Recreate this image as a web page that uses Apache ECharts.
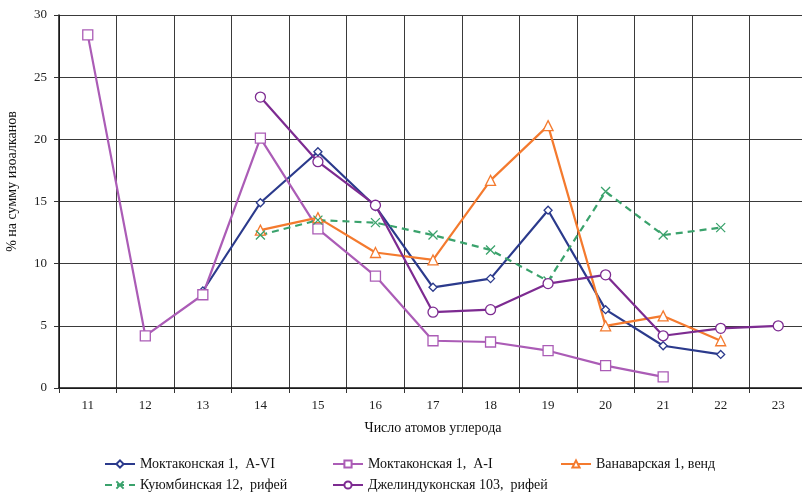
<!DOCTYPE html>
<html>
<head>
<meta charset="utf-8">
<script src="https://cdn.jsdelivr.net/npm/echarts@6/dist/echarts.min.js"></script>
<style>
  html, body { margin: 0; padding: 0; background: #fff; }
  #chart { width: 802px; height: 493px; }
</style>
</head>
<body>
<div id="chart"></div>
<script>
// Carbon number categories
const carbonNumbers = ['11', '12', '13', '14', '15', '16', '17', '18', '19', '20', '21', '22', '23'];
const yTicks = [0, 5, 10, 15, 20, 25, 30];

// Share of each isoalkane, % of total isoalkanes
const moktakonA6 = [null, null, 7.8, 14.9, 19.0, 14.6, 8.1, 8.8, 14.3, 6.3, 3.4, 2.7, null];
const moktakonA1 = [28.4, 4.2, 7.5, 20.1, 12.8, 9.0, 3.8, 3.7, 3.0, 1.8, 0.9, null, null];
const vanavarVend = [null, null, null, 12.7, 13.7, 10.9, 10.3, 16.7, 21.1, 5.0, 5.8, 3.8, null];
const kuyumbaRiphean = [null, null, null, 12.3, 13.5, 13.3, 12.3, 11.1, 8.6, 15.8, 12.3, 12.9, null];
const dzhelinduRiphean = [null, null, null, 23.4, 18.2, 14.7, 6.1, 6.3, 8.4, 9.1, 4.2, 4.8, 5.0];

const seriesNames = [
  'Моктаконская 1,  A-VI',
  'Моктаконская 1,  A-I',
  'Ванаварская 1, венд',
  'Куюмбинская 12,  рифей',
  'Джелиндуконская 103,  рифей'
];

const FONT = '"Liberation Serif", "DejaVu Serif", serif';
const crossPath = 'path://M0,0 L10,10 M10,0 L0,10';

function lineSeries(name, data, color, symbol, size, dashed) {
  const isCross = symbol === crossPath;
  return {
    name: name,
    type: 'line',
    data: data,
    symbol: symbol,
    symbolSize: size,
    showAllSymbol: true,
    lineStyle: { color: color, width: 2.2, type: dashed ? [7, 5] : 'solid' },
    itemStyle: {
      color: isCross ? color : '#ffffff',
      borderColor: color,
      borderWidth: 1.3
    },
    emphasis: { disabled: true },
    z: 3
  };
}

const chart = echarts.init(document.getElementById('chart'), null, { renderer: 'canvas' });

const legendBase = {
  orient: 'horizontal',
  itemWidth: 30,
  itemHeight: 9,
  itemGap: 4,
  padding: 0,
  textStyle: { fontFamily: FONT, fontSize: 14, color: '#111' },
  selectedMode: false
};

chart.setOption({
  animation: false,
  backgroundColor: '#ffffff',
  grid: { left: 59, top: 15, width: 748, height: 373, outerBoundsMode: 'none', containLabel: false },
  legend: [
    Object.assign({}, legendBase, { left: 104, top: 457, data: [seriesNames[0]] }),
    Object.assign({}, legendBase, { left: 332, top: 457, data: [seriesNames[1]] }),
    Object.assign({}, legendBase, { left: 560, top: 457, data: [seriesNames[2]] }),
    Object.assign({}, legendBase, { left: 104, top: 478, data: [seriesNames[3]] }),
    Object.assign({}, legendBase, { left: 332, top: 478, data: [seriesNames[4]] })
  ],
  xAxis: {
    type: 'category',
    data: carbonNumbers,
    boundaryGap: true,
    name: 'Число атомов углерода',
    nameLocation: 'middle',
    nameGap: 33,
    nameTextStyle: { fontFamily: FONT, fontSize: 14, color: '#111' },
    axisLine: { lineStyle: { color: '#111', width: 1.5 } },
    axisTick: { show: true, length: 5, lineStyle: { color: '#333' } },
    axisLabel: { fontFamily: FONT, fontSize: 13, color: '#222', margin: 11 },
    splitLine: { show: true, interval: 0, lineStyle: { color: '#3a3a3a', width: 1 } }
  },
  yAxis: {
    type: 'value',
    min: yTicks[0],
    max: yTicks[yTicks.length - 1],
    interval: 5,
    name: '% на сумму изоалканов',
    nameLocation: 'middle',
    nameGap: 40,
    nameRotate: 90,
    nameTextStyle: { fontFamily: FONT, fontSize: 14, color: '#111', padding: [0, 0, 0, 40] },
    axisLine: { show: true, lineStyle: { color: '#111', width: 1.5 } },
    axisTick: { show: true, length: 5, lineStyle: { color: '#333' } },
    axisLabel: { fontFamily: FONT, fontSize: 13, color: '#222', margin: 12 },
    splitLine: { show: true, lineStyle: { color: '#3a3a3a', width: 1 } }
  },
  series: [
    lineSeries(seriesNames[0], moktakonA6, '#2B3A8C', 'diamond', 8, false),
    lineSeries(seriesNames[1], moktakonA1, '#AB5CB6', 'rect', 10, false),
    lineSeries(seriesNames[2], vanavarVend, '#F47A2E', 'triangle', 10, false),
    lineSeries(seriesNames[3], kuyumbaRiphean, '#3AA26C', crossPath, 9, true),
    lineSeries(seriesNames[4], dzhelinduRiphean, '#7D2B91', 'circle', 10, false)
  ]
});
</script>
</body>
</html>
